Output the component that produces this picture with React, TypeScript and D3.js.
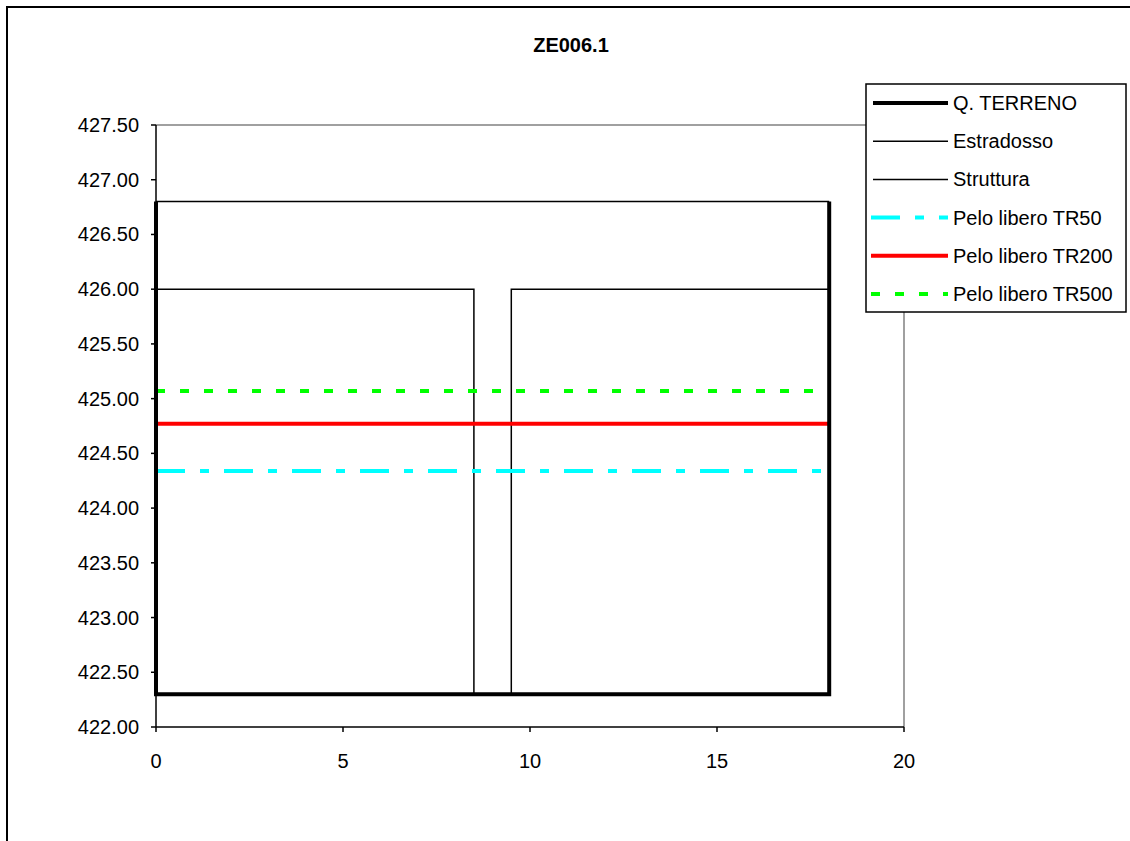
import React from "react";
import * as d3 from "d3";

const title = "ZE006.1";
const yTicks = [422.0, 422.5, 423.0, 423.5, 424.0, 424.5, 425.0, 425.5, 426.0, 426.5, 427.0, 427.5];
const xTicks = [0, 5, 10, 15, 20];

const terrenoX = [0, 0, 18, 18];
const terrenoY = [426.8, 422.3, 422.3, 426.8];
const estradossoX = [0, 18];
const estradossoY = [426.8, 426.8];
const strutturaX = [0, 8.5, 8.5, 9.5, 9.5, 18];
const strutturaY = [426.0, 426.0, 422.3, 422.3, 426.0, 426.0];
const tr50X = [0, 18];
const tr50Y = [424.34, 424.34];
const tr200X = [0, 18];
const tr200Y = [424.77, 424.77];
const tr500X = [0, 18];
const tr500Y = [425.07, 425.07];

const seriesNames = ["Q. TERRENO", "Estradosso", "Struttura", "Pelo libero TR50", "Pelo libero TR200", "Pelo libero TR500"];

export default function App() {
  const W = 1130, H = 841;
  const left = 156, right = 904, top = 125, bottom = 727;
  const x = d3.scaleLinear().domain([0, 20]).range([left, right]);
  const y = d3.scaleLinear().domain([422, 427.5]).range([bottom, top]);
  const line = (xs: number[], ys: number[]) =>
    d3.line<number>().x((_, i) => x(xs[i])).y((_, i) => y(ys[i]))(xs) || "";

  const styles = [
    { stroke: "#000", width: 4, dash: "" },
    { stroke: "#000", width: 1.5, dash: "" },
    { stroke: "#000", width: 1.5, dash: "" },
    { stroke: "#00FFFF", width: 4, dash: "29,15,9,15" },
    { stroke: "#FF0000", width: 4, dash: "" },
    { stroke: "#00FF00", width: 4, dash: "9,15" },
  ];
  const data: [number[], number[]][] = [
    [terrenoX, terrenoY],
    [estradossoX, estradossoY],
    [strutturaX, strutturaY],
    [tr50X, tr50Y],
    [tr200X, tr200Y],
    [tr500X, tr500Y],
  ];
  const font = "Liberation Sans, Arial, sans-serif";
  const drawOrder = [1, 2, 5, 4, 3, 0];

  return (
    <svg width={W} height={H} style={{ position: "absolute", left: 0, top: 0 }} fontFamily={font}>
      <rect x={0} y={0} width={W} height={H} fill="#fff" />
      <rect x={7} y={7} width={1300} height={1000} fill="none" stroke="#000" strokeWidth={2} />
      <text x={571} y={52} textAnchor="middle" fontSize={20} fontWeight="bold">{title}</text>
      {/* plot border */}
      <line x1={left} y1={top} x2={right} y2={top} stroke="#808080" strokeWidth={1.5} />
      <line x1={right} y1={top} x2={right} y2={bottom} stroke="#808080" strokeWidth={1.5} />
      {/* series */}
      {drawOrder.map((i) => (
        <path key={i} d={line(data[i][0], data[i][1])} fill="none" stroke={styles[i].stroke}
          strokeWidth={styles[i].width} strokeDasharray={styles[i].dash || undefined} />
      ))}
      {/* axes */}
      <line x1={left} y1={top} x2={left} y2={bottom} stroke="#000" strokeWidth={1.5} />
      <line x1={left} y1={bottom} x2={right} y2={bottom} stroke="#000" strokeWidth={1.5} />
      {yTicks.map((t) => (
        <g key={t}>
          <line x1={left - 5} x2={left} y1={y(t)} y2={y(t)} stroke="#000" strokeWidth={1.5} />
          <text x={139} y={y(t) + 7} textAnchor="end" fontSize={20}>{t.toFixed(2)}</text>
        </g>
      ))}
      {xTicks.map((t) => (
        <g key={t}>
          <line x1={x(t)} x2={x(t)} y1={bottom} y2={bottom + 5} stroke="#000" strokeWidth={1.5} />
          <text x={x(t)} y={768} textAnchor="middle" fontSize={20}>{t}</text>
        </g>
      ))}
      {/* legend */}
      <rect x={866} y={84} width={260} height={228} fill="#fff" stroke="#000" strokeWidth={1.5} />
      {seriesNames.map((n, i) => {
        const ly = 103 + i * 38.2;
        return (
          <g key={n}>
            <line x1={i >= 3 ? 871 : 873} x2={948} y1={ly} y2={ly} stroke={styles[i].stroke}
              strokeWidth={i === 0 ? 4 : styles[i].width}
              strokeDasharray={styles[i].dash || undefined} />
            <text x={953} y={ly + 7} fontSize={20}>{n}</text>
          </g>
        );
      })}
    </svg>
  );
}
